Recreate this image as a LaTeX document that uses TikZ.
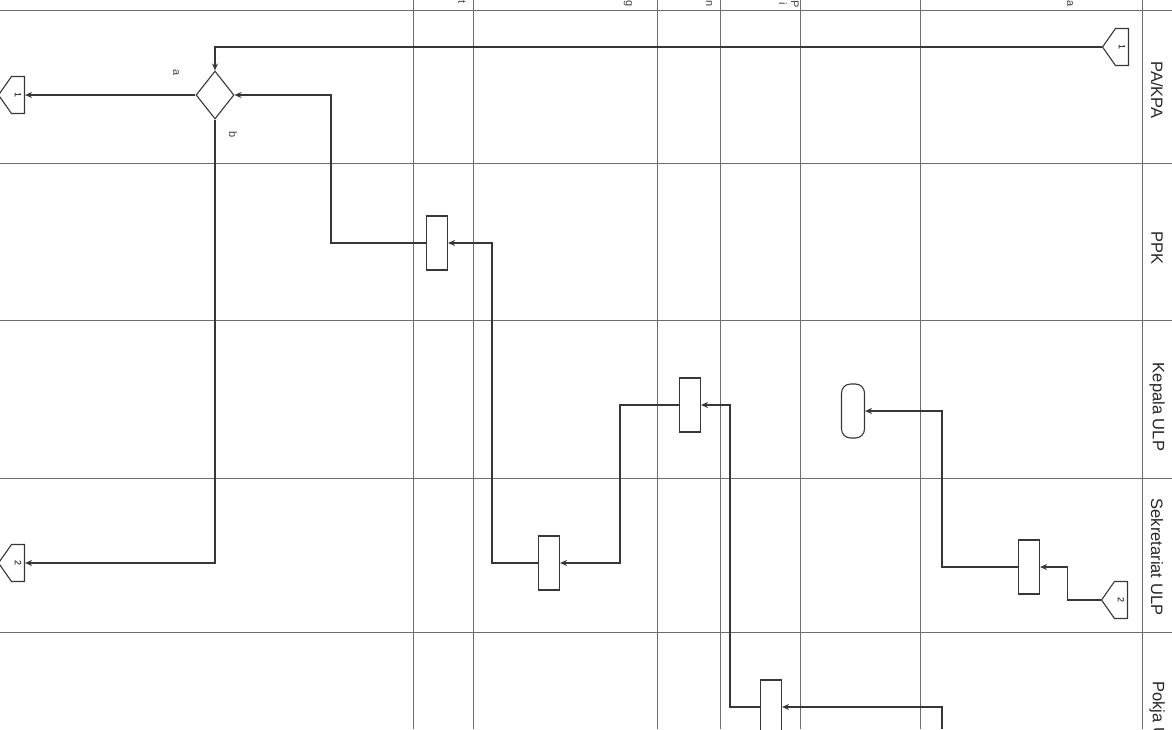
\documentclass[tikz,border=0pt]{standalone}
\usepackage{fontspec}
\setmainfont{Liberation Sans}
\usetikzlibrary{shapes.geometric,shapes.symbols,arrows.meta,positioning}
\definecolor{ink}{RGB}{55,55,55}
\definecolor{rule}{RGB}{110,110,110}
\tikzset{
  act/.style={draw=ink,line width=1.1pt,minimum width=21pt,minimum height=54pt,inner sep=0pt},
  term/.style={draw=ink,line width=1.1pt,rounded corners=9pt,minimum width=23pt,minimum height=54pt,inner sep=0pt},
  dec/.style={draw=ink,line width=1.1pt,diamond,minimum width=38pt,minimum height=48pt,inner sep=0pt},
  off/.style={draw=ink,line width=1.1pt,signal,signal to=west,signal pointer angle=110,minimum width=26pt,minimum height=37pt,inner sep=0pt,font=\small},
  lane/.style={font=\fontsize{16.5}{18}\selectfont,rotate=-90,text=black!85},
  lbl/.style={font=\fontsize{11}{12}\selectfont,rotate=-90,text=black!75},
  a/.style={-{Stealth[length=7pt,width=6pt]},draw=ink,line width=1.1pt}
}

\begin{document}
\begin{tikzpicture}[x=1pt,y=-1pt]
\useasboundingbox (0,0) rectangle (1172,729);
\clip (0,0) rectangle (1172,729);
% lanes and columns
\foreach \y in {10,163,320,478,632} \draw[rule,line width=0.8pt] (0,\y) -- (1172,\y);
\foreach \x in {413,473,657,720,800,920,1142} \draw[rule,line width=0.8pt] (\x,0) -- (\x,729);
\node[lane] (l1) at (1157,90) {PA/KPA};
\node[lane] (l2) at (1157,248) {PPK};
\node[lane] (l3) at (1157,407) {Kepala ULP};
\node[lane] (l4) at (1157,557) {Sekretariat ULP};
\node[lane,anchor=west] (l5) at (1157,678) {Pokja ULP};
% cut off column heads
\node[lbl] (h1) at (462,2) {t};
\node[lbl] (h2) at (628,4) {g};
\node[lbl] (h3) at (709,4) {n};
\node[lbl] (h4) at (783,4) {i};
\node[lbl] (h5) at (795,4) {P};
\node[lbl] (h6) at (1070,4) {a};
% shapes
\node[off] (c1r) at (1122,47) {\rotatebox{-90}{1}};
\node[off] (c1l) at (18,95) {\rotatebox{-90}{1}};
\node[off] (c2l) at (18,563) {\rotatebox{-90}{2}};
\node[off] (c2r) at (1121,600) {\rotatebox{-90}{2}};
\node[dec] (d) at (215,95) {};
\node[act] (ppk) at (437,243) {};
\node[act] (kep) at (690,405) {};
\node[term] (end) at (853,411) {};
\node[act] (sek) at (549,563) {};
\node[act] (sek2) at (1029,567) {};
\node[act] (pok) at (771,707) {};
\node[lbl] (ya) at (176,73) {a};
\node[lbl] (tdk) at (233,135) {b};
% flow
\draw[a] (c1r.west) -| (d.north);
\draw[a] (d.west) -- (c1l.east);
\draw[a] (d.south) |- (c2l.east);
\draw[a] (ppk.west) -- ++(-95,0) |- (d.east);
\draw[a] (sek.west) -- ++(-46,0) |- (ppk.east);
\draw[a] (kep.west) -- ++(-59,0) |- (sek.east);
\draw[a] (pok.west) -- ++(-30,0) |- (kep.east);
\draw[a] (c2r.west) -- ++(-33,0) |- (sek2.east);
\draw[a] (sek2.west) -- ++(-76,0) |- (end.east);
\coordinate (in) at (942,729);
\draw[a] (in) |- (pok.east);
\end{tikzpicture}
\end{document}
